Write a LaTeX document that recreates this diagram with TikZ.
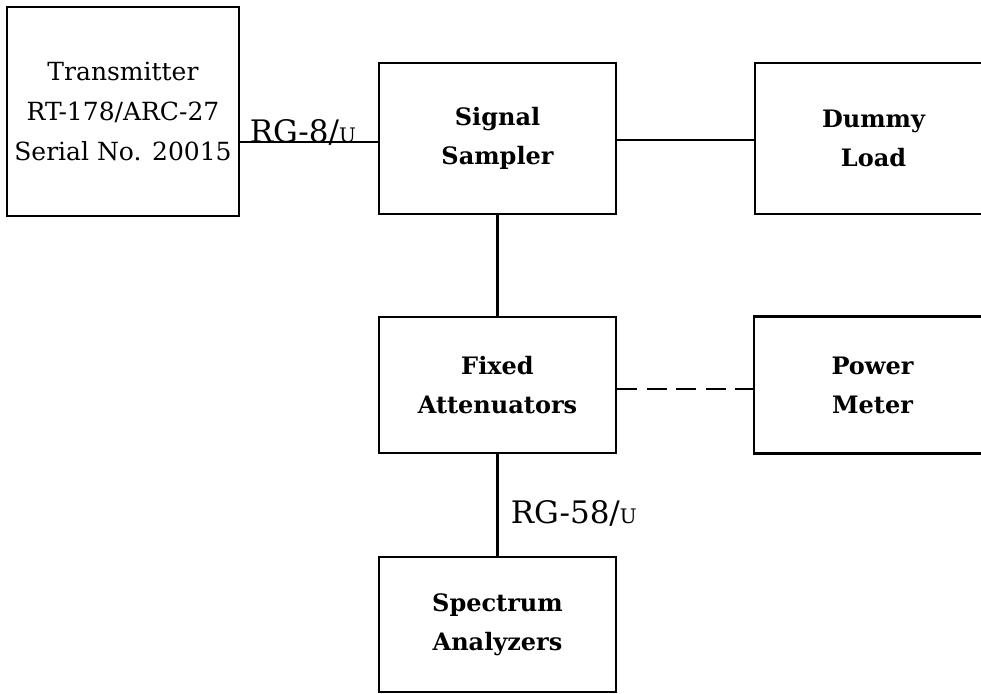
\documentclass[tikz,border=0pt]{standalone}
\usepackage{fontspec}
\setmainfont{DejaVu Serif}
\usetikzlibrary{positioning}
\tikzstyle{block} = [rectangle, minimum width=118.5pt, minimum height=75.5pt, text centered, align=center, draw=black, line width=1.4pt, inner sep=2pt, font=\fontsize{12}{19.5}\selectfont\bfseries]
\tikzstyle{cable} = [line width=1.4pt]
\tikzstyle{dashcable} = [cable, dash pattern=on 10pt off 4.75pt]
\tikzstyle{cablelabel} = [font=\fontsize{15.5}{17}\selectfont, inner sep=0pt]

\begin{document}
\begin{tikzpicture}[x=0.5pt, y=0.5pt, node distance=123.25pt]
\useasboundingbox (0,0) rectangle (981,-693);
\clip (0,0) rectangle (981,-693);
\node (sampler) [block] at (497.5,-138.5) {Signal\\Sampler};
\node (trans) [block, left of=sampler, node distance=187.25pt, yshift=13.5pt, minimum width=116pt, minimum height=104.5pt, font=\fontsize{12.5}{20}\selectfont] {Transmitter\\RT-178/ARC-27\\Serial No. 20015};
\node (dummy) [block, right of=sampler, node distance=188pt] {Dummy\\Load};
\node (fixed) [block, below of=sampler, minimum height=68pt] {Fixed\\Attenuators};
\node (power) [block, right of=fixed, node distance=187.5pt, minimum height=68.5pt] {Power\\Meter};
\node (spectrum) [block, below of=fixed, node distance=119.75pt, minimum height=67.5pt] {Spectrum\\Analyzers};
\draw [cable] (sampler.west |- 0,-142) -- (trans.east |- 0,-142) node [cablelabel, anchor=base west, xshift=4pt] {RG-8/{\normalsize U}};
\draw [cable] (sampler.east |- 0,-140) -- (dummy.west |- 0,-140);
\draw [cable] (sampler) -- (fixed);
\draw [dashcable] (fixed.east |- 0,-389) -- (power.west |- 0,-389);
\draw [cable] (fixed) -- (spectrum) node [cablelabel, pos=0.58, right, xshift=6pt] {RG-58/{\normalsize U}};

\end{tikzpicture}
\end{document}
